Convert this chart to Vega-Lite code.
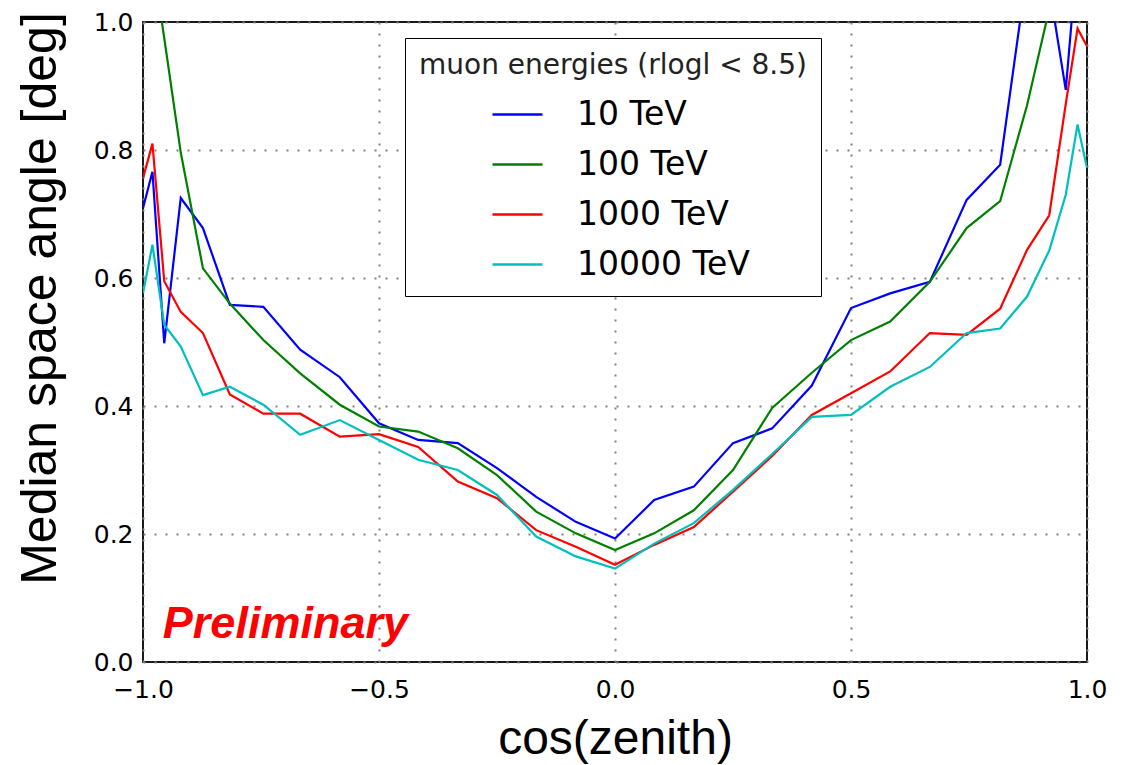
{
  "$schema": "https://vega.github.io/schema/vega-lite/v6.json",
  "width": 944,
  "height": 640,
  "autosize": {"type": "none"},
  "padding": {"left": 143, "top": 22, "right": 46, "bottom": 103},
  "background": "white",
  "config": {
    "view": {"stroke": "#1a1a1a", "strokeWidth": 2},
    "axis": {
      "domain": false,
      "ticks": false,
      "tickSize": 0,
      "grid": true,
      "gridColor": "#808080",
      "gridDash": [2, 9],
      "gridWidth": 2,
      "labelFont": "DejaVu Sans",
      "labelFontSize": 25,
      "labelColor": "#000",
      "labelFlush": false,
      "labelOverlap": false,
      "titleFont": "Liberation Sans",
      "titleFontSize": 50,
      "titleFontWeight": "normal",
      "titleColor": "#000"
    }
  },
  "datasets": {
    "median": [
      {"c": -1.0, "a": 0.709, "E": "10 TeV"},
      {"c": -0.98, "a": 0.766, "E": "10 TeV"},
      {"c": -0.955, "a": 0.498, "E": "10 TeV"},
      {"c": -0.92, "a": 0.725, "E": "10 TeV"},
      {"c": -0.873, "a": 0.678, "E": "10 TeV"},
      {"c": -0.816, "a": 0.558, "E": "10 TeV"},
      {"c": -0.745, "a": 0.555, "E": "10 TeV"},
      {"c": -0.667, "a": 0.488, "E": "10 TeV"},
      {"c": -0.583, "a": 0.445, "E": "10 TeV"},
      {"c": -0.5, "a": 0.373, "E": "10 TeV"},
      {"c": -0.417, "a": 0.347, "E": "10 TeV"},
      {"c": -0.333, "a": 0.342, "E": "10 TeV"},
      {"c": -0.25, "a": 0.303, "E": "10 TeV"},
      {"c": -0.167, "a": 0.258, "E": "10 TeV"},
      {"c": -0.083, "a": 0.219, "E": "10 TeV"},
      {"c": 0.0, "a": 0.193, "E": "10 TeV"},
      {"c": 0.083, "a": 0.253, "E": "10 TeV"},
      {"c": 0.167, "a": 0.274, "E": "10 TeV"},
      {"c": 0.25, "a": 0.342, "E": "10 TeV"},
      {"c": 0.333, "a": 0.365, "E": "10 TeV"},
      {"c": 0.417, "a": 0.432, "E": "10 TeV"},
      {"c": 0.5, "a": 0.553, "E": "10 TeV"},
      {"c": 0.583, "a": 0.576, "E": "10 TeV"},
      {"c": 0.667, "a": 0.594, "E": "10 TeV"},
      {"c": 0.745, "a": 0.722, "E": "10 TeV"},
      {"c": 0.816, "a": 0.777, "E": "10 TeV"},
      {"c": 0.873, "a": 1.08, "E": "10 TeV"},
      {"c": 0.92, "a": 1.055, "E": "10 TeV"},
      {"c": 0.955, "a": 0.894, "E": "10 TeV"},
      {"c": 0.98, "a": 1.11, "E": "10 TeV"},
      {"c": 1.0, "a": 1.15, "E": "10 TeV"},

      {"c": -1.0, "a": 1.2, "E": "100 TeV"},
      {"c": -0.98, "a": 1.1, "E": "100 TeV"},
      {"c": -0.955, "a": 0.975, "E": "100 TeV"},
      {"c": -0.92, "a": 0.796, "E": "100 TeV"},
      {"c": -0.873, "a": 0.615, "E": "100 TeV"},
      {"c": -0.816, "a": 0.56, "E": "100 TeV"},
      {"c": -0.745, "a": 0.503, "E": "100 TeV"},
      {"c": -0.667, "a": 0.451, "E": "100 TeV"},
      {"c": -0.583, "a": 0.402, "E": "100 TeV"},
      {"c": -0.5, "a": 0.368, "E": "100 TeV"},
      {"c": -0.417, "a": 0.36, "E": "100 TeV"},
      {"c": -0.333, "a": 0.334, "E": "100 TeV"},
      {"c": -0.25, "a": 0.292, "E": "100 TeV"},
      {"c": -0.167, "a": 0.235, "E": "100 TeV"},
      {"c": -0.083, "a": 0.201, "E": "100 TeV"},
      {"c": 0.0, "a": 0.175, "E": "100 TeV"},
      {"c": 0.083, "a": 0.201, "E": "100 TeV"},
      {"c": 0.167, "a": 0.237, "E": "100 TeV"},
      {"c": 0.25, "a": 0.3, "E": "100 TeV"},
      {"c": 0.333, "a": 0.397, "E": "100 TeV"},
      {"c": 0.417, "a": 0.452, "E": "100 TeV"},
      {"c": 0.5, "a": 0.503, "E": "100 TeV"},
      {"c": 0.583, "a": 0.532, "E": "100 TeV"},
      {"c": 0.667, "a": 0.594, "E": "100 TeV"},
      {"c": 0.745, "a": 0.678, "E": "100 TeV"},
      {"c": 0.816, "a": 0.72, "E": "100 TeV"},
      {"c": 0.873, "a": 0.87, "E": "100 TeV"},
      {"c": 0.92, "a": 1.02, "E": "100 TeV"},
      {"c": 0.955, "a": 1.12, "E": "100 TeV"},
      {"c": 0.98, "a": 1.18, "E": "100 TeV"},
      {"c": 1.0, "a": 1.22, "E": "100 TeV"},

      {"c": -1.0, "a": 0.756, "E": "1000 TeV"},
      {"c": -0.98, "a": 0.81, "E": "1000 TeV"},
      {"c": -0.955, "a": 0.595, "E": "1000 TeV"},
      {"c": -0.92, "a": 0.547, "E": "1000 TeV"},
      {"c": -0.873, "a": 0.514, "E": "1000 TeV"},
      {"c": -0.816, "a": 0.418, "E": "1000 TeV"},
      {"c": -0.745, "a": 0.388, "E": "1000 TeV"},
      {"c": -0.667, "a": 0.388, "E": "1000 TeV"},
      {"c": -0.583, "a": 0.352, "E": "1000 TeV"},
      {"c": -0.5, "a": 0.356, "E": "1000 TeV"},
      {"c": -0.417, "a": 0.336, "E": "1000 TeV"},
      {"c": -0.333, "a": 0.282, "E": "1000 TeV"},
      {"c": -0.25, "a": 0.256, "E": "1000 TeV"},
      {"c": -0.167, "a": 0.206, "E": "1000 TeV"},
      {"c": -0.083, "a": 0.18, "E": "1000 TeV"},
      {"c": 0.0, "a": 0.152, "E": "1000 TeV"},
      {"c": 0.083, "a": 0.183, "E": "1000 TeV"},
      {"c": 0.167, "a": 0.211, "E": "1000 TeV"},
      {"c": 0.25, "a": 0.266, "E": "1000 TeV"},
      {"c": 0.333, "a": 0.322, "E": "1000 TeV"},
      {"c": 0.417, "a": 0.386, "E": "1000 TeV"},
      {"c": 0.5, "a": 0.42, "E": "1000 TeV"},
      {"c": 0.583, "a": 0.454, "E": "1000 TeV"},
      {"c": 0.667, "a": 0.514, "E": "1000 TeV"},
      {"c": 0.745, "a": 0.511, "E": "1000 TeV"},
      {"c": 0.816, "a": 0.552, "E": "1000 TeV"},
      {"c": 0.873, "a": 0.644, "E": "1000 TeV"},
      {"c": 0.92, "a": 0.698, "E": "1000 TeV"},
      {"c": 0.955, "a": 0.872, "E": "1000 TeV"},
      {"c": 0.98, "a": 0.99, "E": "1000 TeV"},
      {"c": 1.0, "a": 0.962, "E": "1000 TeV"},

      {"c": -1.0, "a": 0.576, "E": "10000 TeV"},
      {"c": -0.98, "a": 0.652, "E": "10000 TeV"},
      {"c": -0.955, "a": 0.527, "E": "10000 TeV"},
      {"c": -0.92, "a": 0.493, "E": "10000 TeV"},
      {"c": -0.873, "a": 0.417, "E": "10000 TeV"},
      {"c": -0.816, "a": 0.43, "E": "10000 TeV"},
      {"c": -0.745, "a": 0.402, "E": "10000 TeV"},
      {"c": -0.667, "a": 0.355, "E": "10000 TeV"},
      {"c": -0.583, "a": 0.378, "E": "10000 TeV"},
      {"c": -0.5, "a": 0.347, "E": "10000 TeV"},
      {"c": -0.417, "a": 0.316, "E": "10000 TeV"},
      {"c": -0.333, "a": 0.3, "E": "10000 TeV"},
      {"c": -0.25, "a": 0.261, "E": "10000 TeV"},
      {"c": -0.167, "a": 0.196, "E": "10000 TeV"},
      {"c": -0.083, "a": 0.165, "E": "10000 TeV"},
      {"c": 0.0, "a": 0.146, "E": "10000 TeV"},
      {"c": 0.083, "a": 0.185, "E": "10000 TeV"},
      {"c": 0.167, "a": 0.217, "E": "10000 TeV"},
      {"c": 0.25, "a": 0.269, "E": "10000 TeV"},
      {"c": 0.333, "a": 0.325, "E": "10000 TeV"},
      {"c": 0.417, "a": 0.383, "E": "10000 TeV"},
      {"c": 0.5, "a": 0.386, "E": "10000 TeV"},
      {"c": 0.583, "a": 0.43, "E": "10000 TeV"},
      {"c": 0.667, "a": 0.461, "E": "10000 TeV"},
      {"c": 0.745, "a": 0.514, "E": "10000 TeV"},
      {"c": 0.816, "a": 0.521, "E": "10000 TeV"},
      {"c": 0.873, "a": 0.571, "E": "10000 TeV"},
      {"c": 0.92, "a": 0.643, "E": "10000 TeV"},
      {"c": 0.955, "a": 0.73, "E": "10000 TeV"},
      {"c": 0.98, "a": 0.84, "E": "10000 TeV"},
      {"c": 1.0, "a": 0.772, "E": "10000 TeV"}
    ],
    "stamp": [
      {"c": -0.958, "a": 0.0375, "t": "Preliminary"}
    ]
  },
  "layer": [
    {
      "data": {"name": "median"},
      "mark": {"type": "line", "clip": true, "strokeWidth": 2.2},
      "encoding": {
        "x": {
          "field": "c",
          "type": "quantitative",
          "scale": {"domain": [-1, 1], "nice": false, "zero": false},
          "axis": {
            "values": [-1, -0.5, 0, 0.5, 1],
            "format": ".1f",
            "labelBaseline": "alphabetic",
            "labelPadding": 35,
            "title": "cos(zenith)",
            "titleFontSize": 48,
            "titleX": 472,
            "titleY": 91,
            "titleAlign": "center",
            "titleBaseline": "alphabetic"
          }
        },
        "y": {
          "field": "a",
          "type": "quantitative",
          "scale": {"domain": [0, 1], "nice": false, "zero": false},
          "axis": {
            "values": [0, 0.2, 0.4, 0.6, 0.8, 1.0],
            "format": ".1f",
            "labelBaseline": "middle",
            "labelPadding": 10,
            "title": "Median space angle [deg]",
            "titleAngle": -90,
            "titleX": -88,
            "titleY": 276,
            "titleAlign": "center",
            "titleBaseline": "alphabetic"
          }
        },
        "color": {
          "field": "E",
          "type": "nominal",
          "scale": {
            "domain": ["10 TeV", "100 TeV", "1000 TeV", "10000 TeV"],
            "range": ["#0000ff", "#008000", "#ff0000", "#00bfbf"]
          },
          "legend": {
            "orient": "none",
            "legendX": 262,
            "legendY": 16,
            "title": "muon energies (rlogl < 8.5)",
            "titleFont": "DejaVu Sans",
            "titleFontSize": 28,
            "titleFontWeight": "normal",
            "titleColor": "#222",
            "titleAnchor": "middle",
            "titleLimit": 600,
            "titlePadding": 8,
            "labelFont": "DejaVu Sans",
            "labelFontSize": 33,
            "labelColor": "#000",
            "labelLimit": 400,
            "labelOffset": 33,
            "symbolType": "stroke",
            "symbolSize": 2500,
            "symbolStrokeWidth": 2.5,
            "symbolOffset": 14,
            "rowPadding": 6,
            "padding": 14,
            "strokeColor": "#000",
            "fillColor": "#fff"
          }
        }
      }
    },
    {
      "data": {"name": "stamp"},
      "mark": {
        "type": "text",
        "align": "left",
        "baseline": "alphabetic",
        "font": "Liberation Sans",
        "fontSize": 45,
        "fontWeight": "bold",
        "fontStyle": "italic",
        "color": "#ff0000"
      },
      "encoding": {
        "x": {"field": "c", "type": "quantitative"},
        "y": {"field": "a", "type": "quantitative"},
        "text": {"field": "t"}
      }
    }
  ]
}
